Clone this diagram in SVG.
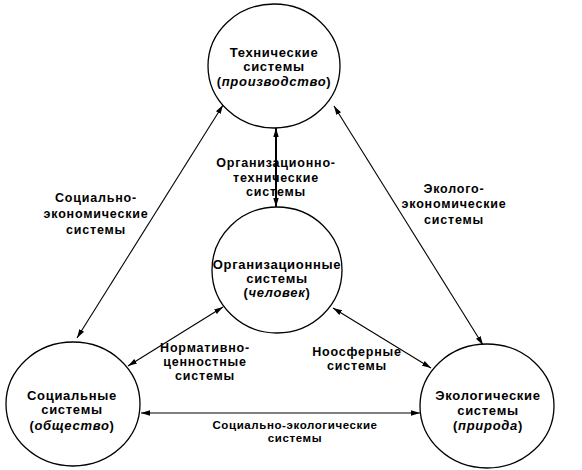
<svg xmlns="http://www.w3.org/2000/svg" width="582" height="470" viewBox="0 0 582 470">
<style>
.node ellipse{fill:#fff;stroke:#000;stroke-width:1.3}
text{font-family:"Liberation Sans",Arial,sans-serif;font-weight:bold;fill:#000;text-anchor:middle}
.nl{font-size:13px;letter-spacing:0.7px}
.cl{font-size:12.5px;letter-spacing:0.8px}
.cs{font-size:11.5px;letter-spacing:0.6px}
.conn line{stroke:#000;stroke-width:1.1;fill:none}
</style>
<defs>
<marker id="ah" viewBox="0 0 10 6" refX="10" refY="3" markerWidth="9" markerHeight="5.4" markerUnits="userSpaceOnUse" orient="auto-start-reverse">
<path d="M0,0 L10,3 L0,6 Z" fill="#000"/>
</marker>
</defs>
<g class="conn">
<line x1="276" y1="128" x2="276" y2="207" style="stroke-width:2" marker-start="url(#ah)" marker-end="url(#ah)"/>
<line x1="223" y1="105" x2="77" y2="338" marker-start="url(#ah)" marker-end="url(#ah)"/>
<line x1="334" y1="106" x2="483" y2="345" marker-start="url(#ah)" marker-end="url(#ah)"/>
<line x1="223" y1="307" x2="128" y2="366" marker-start="url(#ah)" marker-end="url(#ah)"/>
<line x1="333" y1="308" x2="431" y2="368" marker-start="url(#ah)" marker-end="url(#ah)"/>
<line x1="141" y1="413" x2="420" y2="413" marker-start="url(#ah)" marker-end="url(#ah)"/>
</g>
<g id="n-tech" class="node">
<ellipse cx="274" cy="66" rx="66" ry="62"/>
<text class="nl" x="274" y="57">Технические</text>
<text class="nl" x="274" y="71">системы</text>
<text class="nl" x="274" y="86">(<tspan font-style="italic">производство</tspan>)</text>
</g>
<g id="n-org" class="node">
<ellipse cx="277" cy="270" rx="65" ry="63"/>
<text class="nl" x="277" y="269">Организационные</text>
<text class="nl" x="277" y="283">системы</text>
<text class="nl" x="277" y="297">(<tspan font-style="italic">человек</tspan>)</text>
</g>
<g id="n-soc" class="node">
<ellipse cx="73" cy="404" rx="67" ry="62"/>
<text class="nl" x="72" y="400">Социальные</text>
<text class="nl" x="72" y="414">системы</text>
<text class="nl" x="72" y="430">(<tspan font-style="italic">общество</tspan>)</text>
</g>
<g id="n-eco" class="node">
<ellipse cx="487" cy="406" rx="67" ry="62"/>
<text class="nl" x="488" y="400">Экологические</text>
<text class="nl" x="488" y="415">системы</text>
<text class="nl" x="488" y="430">(<tspan font-style="italic">природа</tspan>)</text>
</g>
<g id="labels">
<text class="cl" x="276" y="167">Организационно-</text>
<text class="cl" x="276" y="182">технические</text>
<text class="cl" x="276" y="196">системы</text>
<text class="cl" x="96" y="202">Социально-</text>
<text class="cl" x="96" y="218">экономические</text>
<text class="cl" x="96" y="234">системы</text>
<text class="cl" x="454" y="193">Эколого-</text>
<text class="cl" x="454" y="208">экономические</text>
<text class="cl" x="454" y="224">системы</text>
<text class="cl" x="205" y="352">Нормативно-</text>
<text class="cl" x="205" y="366">ценностные</text>
<text class="cl" x="205" y="380">системы</text>
<text class="cl" x="357" y="356">Ноосферные</text>
<text class="cl" x="357" y="370">системы</text>
<text class="cs" x="295" y="429">Социально-экологические</text>
<text class="cs" x="295" y="442">системы</text>
</g>
</svg>
